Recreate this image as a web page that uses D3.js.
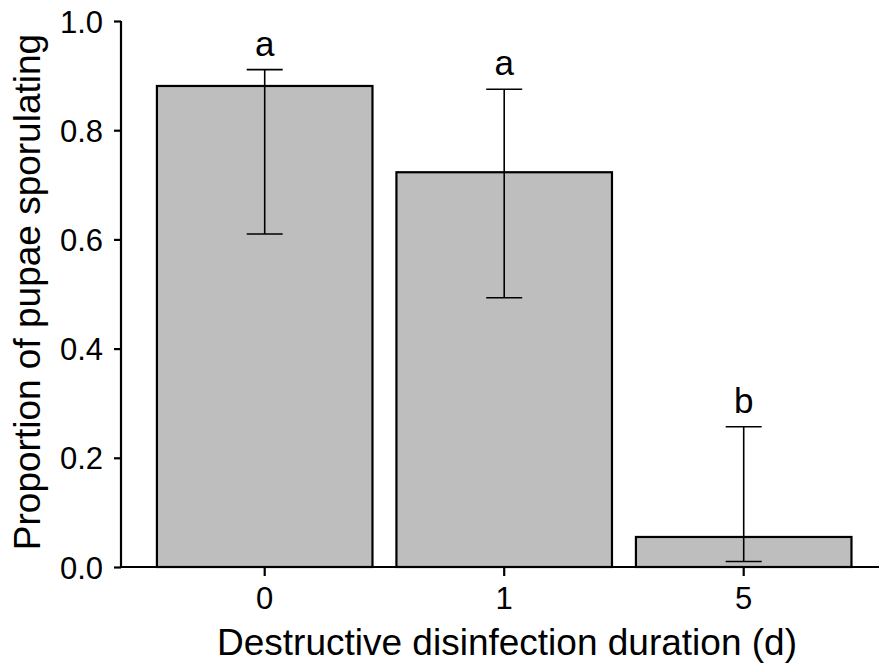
<!DOCTYPE html>
<meta charset="utf-8">
<html>
<head>
    <style>
        body { margin: 0; background: white; }
        svg text { font-family: "Liberation Sans", Arial, sans-serif; fill: black; }
    </style>
    <script src="https://d3js.org/d3.v7.min.js"></script>
</head>
<body>
    <div id="chart-container"></div>
    <script>
        // data
        var durations = ["0", "1", "5"];
        var proportions = [0.881, 0.723, 0.055];
        var lowerCI = [0.610, 0.493, 0.010];
        var upperCI = [0.911, 0.875, 0.257];
        var groupLetters = ["a", "a", "b"];
        var yTicks = [0.0, 0.2, 0.4, 0.6, 0.8, 1.0];

        var data = durations.map(function (d, i) {
            return { dur: d, p: proportions[i], lo: lowerCI[i], hi: upperCI[i], letter: groupLetters[i] };
        });

        var W = 879, H = 664;
        var x0 = 121, y0 = 567;

        var svg = d3.select("#chart-container")
            .append("svg")
            .attr("width", W)
            .attr("height", H);

        // discrete scale, ggplot-like expansion of 0.6 units each side
        var unit = 239.5;
        var x = d3.scaleBand()
            .domain(durations)
            .range([x0 + 0.1 * unit, x0 + 0.1 * unit + 3 * unit])
            .paddingInner(0.1)
            .paddingOuter(0.05);

        var y = d3.scaleLinear()
            .domain([0, 1])
            .range([y0, 21]);

        // bars
        svg.append("g")
            .selectAll("rect")
            .data(data)
            .enter().append("rect")
            .attr("x", d => x(d.dur))
            .attr("width", x.bandwidth())
            .attr("y", d => y(d.p))
            .attr("height", d => y(0) - y(d.p))
            .attr("fill", "#bebebe")
            .attr("stroke", "black")
            .attr("stroke-width", 2.2);

        // error bars
        var capW = 36;
        var eb = svg.append("g")
            .attr("stroke", "black")
            .attr("stroke-width", 1.6)
            .selectAll("g")
            .data(data)
            .enter().append("g");

        eb.append("line")
            .attr("x1", d => x(d.dur) + x.bandwidth() / 2)
            .attr("x2", d => x(d.dur) + x.bandwidth() / 2)
            .attr("y1", d => y(d.lo))
            .attr("y2", d => y(d.hi));
        eb.append("line")
            .attr("x1", d => x(d.dur) + x.bandwidth() / 2 - capW / 2)
            .attr("x2", d => x(d.dur) + x.bandwidth() / 2 + capW / 2)
            .attr("y1", d => y(d.hi))
            .attr("y2", d => y(d.hi));
        eb.append("line")
            .attr("x1", d => x(d.dur) + x.bandwidth() / 2 - capW / 2)
            .attr("x2", d => x(d.dur) + x.bandwidth() / 2 + capW / 2)
            .attr("y1", d => y(d.lo))
            .attr("y2", d => y(d.lo));

        // significance letters
        svg.append("g")
            .selectAll("text")
            .data(data)
            .enter().append("text")
            .attr("x", d => x(d.dur) + x.bandwidth() / 2)
            .attr("y", d => y(d.hi) - 14)
            .attr("text-anchor", "middle")
            .style("font-size", "35px")
            .text(d => d.letter);

        // y axis
        var yAxis = svg.append("g")
            .attr("transform", "translate(" + x0 + ",0)")
            .call(d3.axisLeft(y).tickValues(yTicks).tickFormat(d3.format(".1f")).tickSize(7).tickPadding(11));
        yAxis.select(".domain").attr("stroke-width", 2.2).attr("d", "M0," + y(1) + "V" + y(0));
        yAxis.selectAll(".tick line").attr("stroke-width", 2.2);
        yAxis.selectAll(".tick text").style("font-size", "31px").attr("dy", "0.36em");

        // x axis
        var xAxis = svg.append("g")
            .attr("transform", "translate(0," + y0 + ")")
            .call(d3.axisBottom(x).tickSize(9).tickPadding(11));
        xAxis.select(".domain").attr("stroke-width", 2.2).attr("d", "M" + x0 + ",0H" + W);
        xAxis.selectAll(".tick line").attr("stroke-width", 2.2);
        xAxis.selectAll(".tick text").style("font-size", "31px");

        // axis titles
        svg.append("text")
            .attr("x", 507)
            .attr("y", 655)
            .attr("text-anchor", "middle")
            .style("font-size", "37px")
            .text("Destructive disinfection duration (d)");

        svg.append("text")
            .attr("transform", "translate(40,292) rotate(-90)")
            .attr("text-anchor", "middle")
            .style("font-size", "37px")
            .text("Proportion of pupae sporulating");
    </script>
</body>
</html>
